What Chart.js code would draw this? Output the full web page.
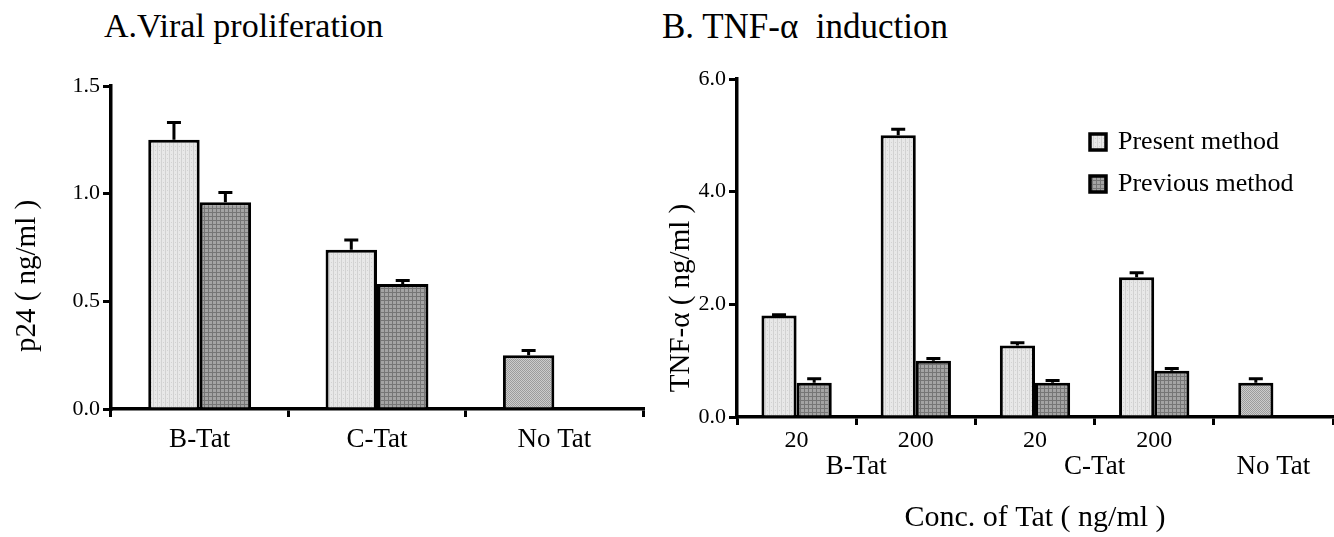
<!DOCTYPE html>
<html>
<head>
<meta charset="utf-8">
<script src="https://cdn.jsdelivr.net/npm/chart.js@4.4.1/dist/chart.umd.min.js"></script>
<style>
  body { margin: 0; background: #fff; width: 1334px; height: 537px; overflow: hidden; position: relative; font-family: "Liberation Serif", serif; }
  canvas { position: absolute; top: 0; }
  #chartA { left: 0; }
  #chartB { left: 660px; }
  .ttl { position: absolute; top: 9px; font-size: 34px; line-height: 1; white-space: pre; color: #000; }
</style>
</head>
<body>
<div class="ttl" style="left:104px">A.Viral proliferation</div>
<div class="ttl" style="left:662px;font-size:35px">B. TNF-α  induction</div>
<canvas id="chartA" width="660" height="537"></canvas>
<canvas id="chartB" width="674" height="537"></canvas>
<script>
// --- panel A: viral proliferation (p24, ng/ml)
const catsA = ['B-Tat', 'C-Tat', 'No Tat'];
const presentA = [1.25, 0.74, 0.25];
const presentErrA = [0.08, 0.045, 0.022];
const previousA = [0.96, 0.58, null];
const previousErrA = [0.045, 0.017, null];

// --- panel B: TNF-alpha induction (ng/ml)
const catsB = ['20', '200', '20', '200', ''];
const groupLabelsB = ['B-Tat', 'C-Tat', 'No Tat'];
const groupFirstB = [0, 2, 4];
const groupLastB = [1, 3, 4];
const presentB = [1.8, 5.0, 1.27, 2.48, 0.61];
const presentErrB = [0.015, 0.11, 0.05, 0.08, 0.07];
const previousB = [0.61, 1.0, 0.61, 0.82, null];
const previousErrB = [0.07, 0.04, 0.04, 0.04, null];

const FONT = '"Liberation Serif", "Times New Roman", serif';

// little dotted textures like the scanned figure
function makePattern(base, dot, kind) {
  const c = document.createElement('canvas');
  c.width = 4; c.height = 4;
  const g = c.getContext('2d');
  g.fillStyle = base;
  g.fillRect(0, 0, 4, 4);
  g.fillStyle = dot;
  if (kind === 'grid') {
    g.fillRect(0, 0, 1, 4);
    g.fillRect(0, 0, 4, 1);
  } else if (kind === 'check') {
    for (let yy = 0; yy < 4; yy++)
      for (let xx = 0; xx < 4; xx++)
        if ((xx + yy) % 2 === 0) g.fillRect(xx, yy, 1, 1);
  } else {
    g.fillRect(1, 0, 1, 4);
    g.fillRect(3, 2, 1, 1);
  }
  return g.createPattern(c, 'repeat');
}
const lightFill = makePattern('#e8e8e8', '#d2d2d2', 'dots');
const darkFill = makePattern('#a4a4a4', '#767676', 'grid');
const noTatFill = makePattern('#cccccc', '#9c9c9c', 'check');

const errorBars = {
  id: 'errorBars',
  afterDatasetsDraw(chart) {
    const ctx = chart.ctx;
    const y = chart.scales.y;
    chart.data.datasets.forEach((ds, i) => {
      const meta = chart.getDatasetMeta(i);
      meta.data.forEach((bar, j) => {
        const v = ds.data[j], e = ds.errors[j];
        if (v == null || !e) return;
        const top = y.getPixelForValue(v + e);
        ctx.save();
        ctx.strokeStyle = '#000';
        ctx.lineWidth = 3;
        ctx.beginPath();
        ctx.moveTo(bar.x, bar.y);
        ctx.lineTo(bar.x, top);
        ctx.moveTo(bar.x - 7, top);
        ctx.lineTo(bar.x + 7, top);
        ctx.stroke();
        ctx.restore();
      });
    });
  }
};

// axis titles, group labels and the legend are drawn by hand
const extraText = {
  id: 'extraText',
  afterDraw(chart, args, opts) {
    const ctx = chart.ctx;
    ctx.save();
    ctx.fillStyle = '#000';
    ctx.textBaseline = 'middle';
    ctx.textAlign = 'center';
    // rotated y title
    ctx.save();
    ctx.translate(opts.yTitleX, opts.yTitleY);
    ctx.rotate(-Math.PI / 2);
    ctx.font = opts.yTitleSize + 'px ' + FONT;
    ctx.fillText(opts.yTitle, 0, 0);
    ctx.restore();

    if (opts.groups) {
      const x = chart.scales.x;
      ctx.font = '27px ' + FONT;
      opts.groups.forEach((lab, k) => {
        const cx = (x.getPixelForValue(groupFirstB[k]) + x.getPixelForValue(groupLastB[k])) / 2;
        ctx.fillText(lab, cx, opts.groupY);
      });
      ctx.font = '30px ' + FONT;
      ctx.fillText(opts.xTitle, opts.xTitleX, opts.xTitleY);
    }

    if (opts.legend) {
      ctx.textAlign = 'left';
      ctx.font = '26px ' + FONT;
      chart.data.datasets.forEach((ds, i) => {
        const by = opts.legendY + i * 42;
        ctx.fillStyle = ds.legendFill;
        ctx.fillRect(opts.legendX, by - 8, 16, 16);
        ctx.lineWidth = 3.5;
        ctx.strokeStyle = '#000';
        ctx.strokeRect(opts.legendX, by - 8, 16, 16);
        ctx.fillStyle = '#000';
        ctx.fillText(ds.label, opts.legendX + 28, by);
      });
    }
    ctx.restore();
  }
};

function axes(yMax, yStep, tickSize, tickPad, yWidth, xHeight) {
  return {
    x: {
      grid: { display: true, drawOnChartArea: false, drawTicks: true, tickLength: 8, color: '#000', lineWidth: 3, offset: true },
      border: { display: true, color: '#000', width: 3.5 },
      ticks: { color: '#000', font: { family: FONT, size: tickSize }, padding: tickPad, maxRotation: 0, autoSkip: false },
      afterFit(s) { s.height = xHeight; }
    },
    y: {
      min: 0, max: yMax,
      grid: { display: true, drawOnChartArea: false, drawTicks: true, tickLength: 8, color: '#000', lineWidth: 3 },
      border: { display: true, color: '#000', width: 3.5 },
      ticks: { stepSize: yStep, color: '#000', font: { family: FONT, size: 22 }, padding: 3, callback: v => v.toFixed(1) },
      afterFit(s) { s.width = yWidth; }
    }
  };
}

new Chart(document.getElementById('chartA'), {
  type: 'bar',
  data: {
    labels: catsA,
    datasets: [
      { label: 'Present method', data: presentA, errors: presentErrA,
        backgroundColor: [lightFill, lightFill, noTatFill], legendFill: lightFill,
        borderColor: '#000', borderWidth: 3, categoryPercentage: 0.58, barPercentage: 1 },
      { label: 'Previous method', data: previousA, errors: previousErrA,
        backgroundColor: darkFill, legendFill: darkFill,
        borderColor: '#000', borderWidth: 3, categoryPercentage: 0.58, barPercentage: 1 }
    ]
  },
  options: {
    responsive: false,
    animation: false,
    layout: { padding: { top: 86, right: 17, left: 0, bottom: 0 } },
    scales: axes(1.5, 0.5, 27, 7, 111, 537 - 409),
    plugins: {
      legend: { display: false },
      tooltip: { enabled: false },
      extraText: { yTitle: 'p24 ( ng/ml )', yTitleSize: 29, yTitleX: 27, yTitleY: 276 }
    }
  },
  plugins: [errorBars, extraText]
});

new Chart(document.getElementById('chartB'), {
  type: 'bar',
  data: {
    labels: catsB,
    datasets: [
      { label: 'Present method', data: presentB, errors: presentErrB,
        backgroundColor: [lightFill, lightFill, lightFill, lightFill, noTatFill], legendFill: lightFill,
        borderColor: '#000', borderWidth: 3, categoryPercentage: 0.59, barPercentage: 1 },
      { label: 'Previous method', data: previousB, errors: previousErrB,
        backgroundColor: darkFill, legendFill: darkFill,
        borderColor: '#000', borderWidth: 3, categoryPercentage: 0.59, barPercentage: 1 }
    ]
  },
  options: {
    responsive: false,
    animation: false,
    layout: { padding: { top: 79, right: 1, left: 0, bottom: 0 } },
    scales: axes(6, 2, 24, 1, 77, 537 - 417),
    plugins: {
      legend: { display: false },
      tooltip: { enabled: false },
      extraText: {
        yTitle: 'TNF-α ( ng/ml )', yTitleSize: 29, yTitleX: 21, yTitleY: 298,
        groups: groupLabelsB, groupY: 467,
        xTitle: 'Conc. of Tat ( ng/ml )', xTitleX: 375, xTitleY: 518,
        legend: true, legendX: 430, legendY: 142
      }
    }
  },
  plugins: [errorBars, extraText]
});
</script>
</body>
</html>
